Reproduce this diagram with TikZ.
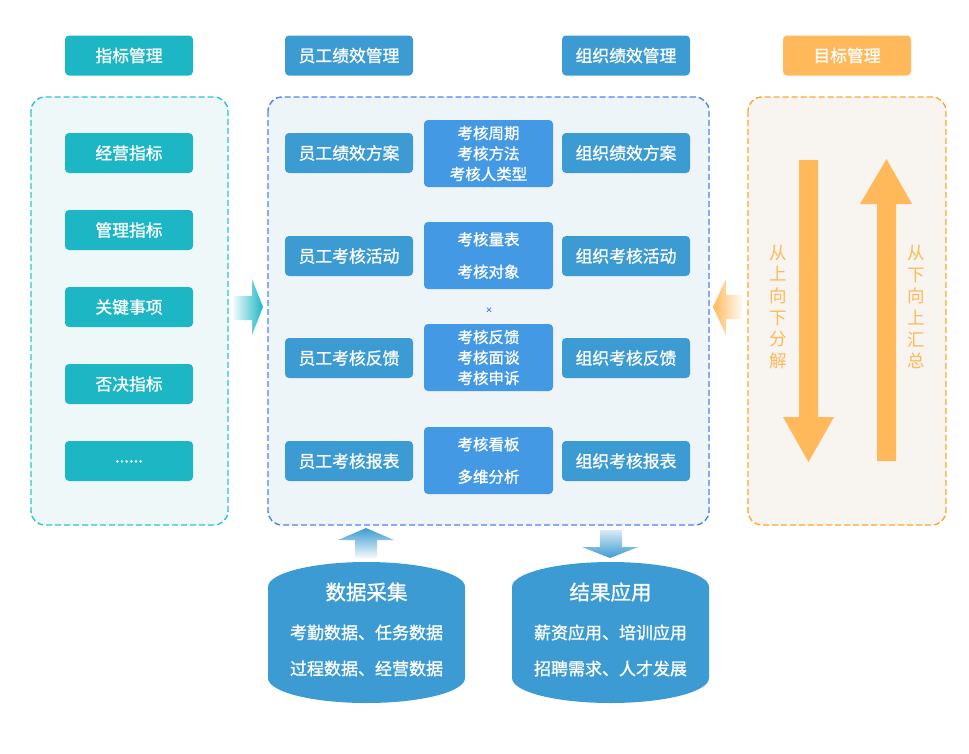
\documentclass[tikz,border=0pt]{standalone}
\usepackage{fontspec}
\setmainfont{Noto Sans CJK SC}[FakeBold=1.0]
\newfontfamily\lightcjk{Noto Sans CJK SC}
\usetikzlibrary{shapes.geometric}
\definecolor{teal1}{HTML}{1DB6C4}
\definecolor{blue1}{HTML}{3C9BD2}
\definecolor{blue2}{HTML}{4499E5}
\definecolor{orange1}{HTML}{FFB95A}
\definecolor{tealdash}{HTML}{2CC4CC}
\definecolor{bluedash}{HTML}{4D85F0}
\definecolor{orangedash}{HTML}{FFA733}
\definecolor{tealbg}{HTML}{EFF8F8}
\definecolor{bluebg}{HTML}{EEF5F8}
\definecolor{orangebg}{HTML}{F8F4EF}
\tikzset{
  hbox/.style={rounded corners=4pt, minimum width=128pt, minimum height=40pt, inner sep=0pt, text=white, font=\fontsize{16.8}{18}\selectfont},
  tealbox/.style={hbox, fill=teal1},
  bluebox/.style={hbox, fill=blue1},
  orangebox/.style={hbox, fill=orange1},
  midbox/.style={rounded corners=4pt, minimum width=129pt, minimum height=67pt, inner sep=0pt, fill=blue2, text=white, align=center, font=\fontsize{15.5}{20.5}\selectfont},
  container/.style={rounded corners=14pt, dashed, dash pattern=on 6pt off 3pt, line width=1.4pt},
  cyltext/.style={text=white, align=center},
  vtext/.style={text=orange1, align=center, font=\lightcjk\fontsize{17.5}{21.7}\selectfont},
}
\begin{document}
\begin{tikzpicture}[x=1pt,y=1pt]
\useasboundingbox (0,0) rectangle (969,-753);
% headers
\node[tealbox] (h1) at (129,-55.5) {指标管理};
\node[bluebox] (h2) at (349,-55.5) {员工绩效管理};
\node[bluebox] (h3) at (626,-55.5) {组织绩效管理};
\node[orangebox] (h4) at (847,-55.5) {目标管理};
% containers
\draw[container, draw=tealdash, fill=tealbg] (31,-97) rectangle (228,-525);
\draw[container, draw=bluedash, fill=bluebg] (268,-97) rectangle (709,-525);
\draw[container, draw=orangedash, fill=orangebg] (748,-97) rectangle (946,-525);
% left items
\node[tealbox] (l1) at (129,-153) {经营指标};
\node[tealbox] (l2) at (129,-230) {管理指标};
\node[tealbox] (l3) at (129,-307) {关键事项};
\node[tealbox] (l4) at (129,-384) {否决指标};
\node[tealbox] (l5) at (129,-461) {\raisebox{-3pt}{......}};
% middle columns
\node[bluebox] (e1) at (349,-153) {员工绩效方案};
\node[bluebox] (e2) at (349,-256) {员工考核活动};
\node[bluebox] (e3) at (349,-358) {员工考核反馈};
\node[bluebox] (e4) at (349,-461) {员工考核报表};
\node[midbox] (m1) at (488.5,-153.5) {考核周期\\考核方法\\考核人类型};
\node[midbox] (m2) at (488.5,-255.5) {考核量表\\[12pt]考核对象};
\node[midbox] (m3) at (488.5,-357.5) {考核反馈\\考核面谈\\考核申诉};
\node[midbox] (m4) at (488.5,-460.5) {考核看板\\[12pt]多维分析};
\node[bluebox] (o1) at (626,-153) {组织绩效方案};
\node[bluebox] (o2) at (626,-256) {组织考核活动};
\node[bluebox] (o3) at (626,-358) {组织考核反馈};
\node[bluebox] (o4) at (626,-461) {组织考核报表};
% small mark
\node[text=bluedash, font=\fontsize{7}{7}\selectfont, inner sep=0pt] (mk) at (489,-310) {×};
% side arrows
\shade[left color=teal1!5, right color=teal1]
  (233,-296) -- (252,-296) -- (252,-279) -- (263,-307) -- (252,-335) -- (252,-320) -- (233,-320) -- cycle;
\shade[left color=orange1, right color=orange1!5]
  (742,-295) -- (726,-295) -- (726,-279) -- (713,-307) -- (726,-335) -- (726,-319) -- (742,-319) -- cycle;
% vertical arrows in right panel
\fill[orange1] (799,-160) -- (818,-160) -- (818,-417) -- (834,-417) -- (808.5,-462) -- (783,-417) -- (799,-417) -- cycle;
\fill[orange1] (877,-461) -- (896,-461) -- (896,-204) -- (912,-204) -- (886.5,-159) -- (860,-204) -- (877,-204) -- cycle;
\node[vtext] (t1) at (778,-307) {从\\上\\向\\下\\分\\解};
\node[vtext] (t2) at (916,-307) {从\\下\\向\\上\\汇\\总};
% bottom arrows
\shade[top color=blue1, bottom color=blue1!5]
  (366,-528) -- (394,-540) -- (377,-540) -- (377,-558) -- (355,-558) -- (355,-540) -- (338,-540) -- cycle;
\shade[top color=blue1!20, bottom color=blue1]
  (600,-530) -- (622,-530) -- (622,-547) -- (638,-547) -- (610,-558) -- (582,-547) -- (600,-547) -- cycle;
% cylinders
\fill[blue1] (268,-587) -- (268,-678) arc[start angle=180,end angle=360,x radius=98.5,y radius=25] -- (465,-587) arc[start angle=0,end angle=180,x radius=98.5,y radius=25] -- cycle;
\fill[blue1] (512,-587) -- (512,-678) arc[start angle=180,end angle=360,x radius=98.5,y radius=25] -- (709,-587) arc[start angle=0,end angle=180,x radius=98.5,y radius=25] -- cycle;
\node[cyltext, font=\fontsize{20.5}{20}\selectfont] (c1) at (366.5,-592) {数据采集};
\node[cyltext, font=\fontsize{17}{36}\selectfont] (c1b) at (366.5,-650.5) {考勤数据、任务数据\\过程数据、经营数据};
\node[cyltext, font=\fontsize{20.5}{20}\selectfont] (c2) at (610.5,-592) {结果应用};
\node[cyltext, font=\fontsize{17}{36}\selectfont] (c2b) at (610.5,-650.5) {薪资应用、培训应用\\招聘需求、人才发展};
\end{tikzpicture}
\end{document}
